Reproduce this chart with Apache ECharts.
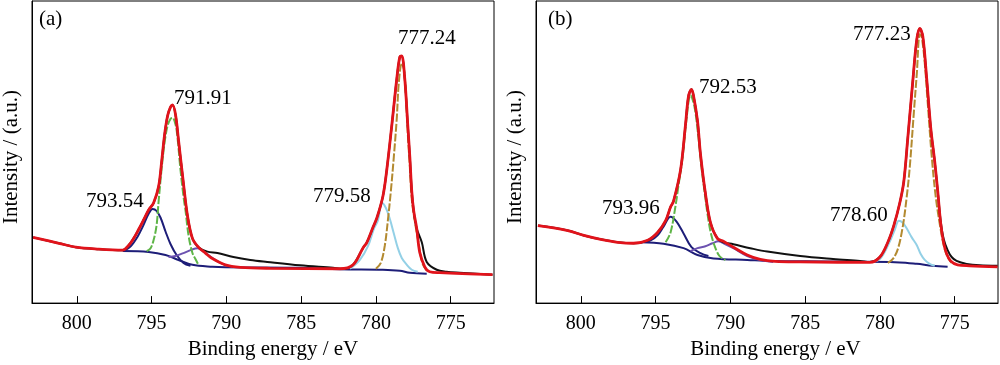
<!DOCTYPE html>
<html><head><meta charset="utf-8">
<script src="https://cdn.jsdelivr.net/npm/echarts@6/dist/echarts.min.js"></script>
<style>html,body{margin:0;padding:0;background:#fff}#c{width:1000px;height:365px}</style>
</head><body><div id="c"></div>
<script>
// ---- data (binding energy eV, intensity a.u.) ----
const tickValues = [775, 780, 785, 790, 795, 800];
const panelLabels = ['(a)', '(b)'];
const peakLabelsA = ['793.54', '791.91', '779.58', '777.24'];
const peakLabelsB = ['793.96', '792.53', '778.60', '777.23'];

// Panel (a)
const aRaw = [[802.93,67],[801.2,61],[800.07,57],[798.53,55],[796.93,54],[796.53,59],[796.2,66],[795.87,75],[795.53,85],[795.2,95],[794.87,102],[794.53,119],[794.33,144],[794.13,172],[793.93,191],[793.73,200],[793.6,202],[793.4,192],[793.2,166],[792.87,122],[792.6,89],[792.27,66],[791.87,57],[791.27,52.5],[790.6,51],[789.53,47],[788.4,44],[787.27,42],[785.07,38.5],[782.87,36],[782.2,35],[781.53,39],[780.87,56],[780.6,62],[780.2,77],[779.93,87],[779.53,109],[779.27,136],[778.93,182],[778.6,229],[778.4,251],[778.27,252],[778.07,229],[777.87,182],[777.73,149],[777.6,114],[777.47,94],[777.27,76],[776.93,62],[776.6,42],[775.93,34],[775.27,32],[774.4,31],[772.2,29]];
const aFit = [[802.93,67],[801.2,61],[800.07,57],[798.53,55],[796.93,54],[796.53,59],[796.2,66],[795.87,75],[795.53,85],[795.2,95],[794.87,102],[794.53,119],[794.33,144],[794.13,172],[793.93,191],[793.73,200],[793.6,202],[793.4,192],[793.2,166],[792.87,122],[792.6,89],[792.27,66],[791.87,57],[791.4,51],[791.0,46],[790.07,39],[789.07,36.5],[787.07,35.5],[782.4,35],[781.53,39],[780.87,56],[780.6,62],[780.2,77],[779.93,87],[779.53,109],[779.27,136],[778.93,182],[778.6,229],[778.4,251],[778.27,252],[778.07,229],[777.87,182],[777.73,149],[777.6,114],[777.47,94],[777.27,76],[777.07,52],[776.73,37],[776.4,32],[775.73,31],[772.2,29]];
const aBase = [[796.93,53],[795.2,52],[794.07,49],[793.2,44],[792.27,39],[790.93,37],[790.07,36.5],[785.07,36],[782.4,34.5],[779.53,34],[778.4,33],[777.73,31],[776.6,30]];
const aPeak1 = [[796.87,53],[796.4,58],[795.93,68],[795.53,80],[795.2,91],[794.93,96],[794.67,94],[794.4,87],[794.07,73],[793.73,60],[793.33,49],[792.87,41],[792.4,38]];
const aPeak2 = [[795.33,53],[795.07,56],[794.87,64],[794.67,79],[794.53,104],[794.33,137],[794.13,164],[793.93,181],[793.73,188],[793.6,189],[793.4,182],[793.27,169],[793.07,136],[792.87,109],[792.73,94],[792.53,69],[792.27,51],[792.07,45],[791.87,39]];
const aSat = [[793.87,47],[793.4,48],[792.87,51],[792.4,54],[791.93,56],[791.47,52],[790.93,46],[790.27,40],[789.6,37]];
const aPeak3 = [[781.73,35],[781.07,44],[780.53,58],[780.13,76],[779.87,84],[779.73,95],[779.6,102],[779.33,97],[779.07,86],[778.8,71],[778.53,56],[778.27,46],[777.93,39],[777.6,34],[777.2,32]];
const aPeak4 = [[780,35],[779.67,41],[779.4,59],[779.2,84],[779,114],[778.8,149],[778.6,189],[778.47,224],[778.27,244],[778.13,239],[778,214],[777.87,174],[777.73,139],[777.6,106],[777.4,84],[777.2,66],[776.87,40],[776.53,32]];

// Panel (b)
const bRaw = [[802.87,79],[800.87,74],[799.8,69],[798.67,65],[797.53,62],[796.47,61],[795.53,64],[794.87,72],[794.33,84],[794,98],[793.8,104],[793.33,136],[793,182],[792.8,211],[792.6,218],[792.47,212],[792.2,186],[792,152],[791.67,112],[791.33,82],[790.87,66],[790.47,62],[789.8,60],[788.67,56],[787.53,52.5],[785.33,48],[783.13,45],[781.33,43],[780.67,42],[780,47],[779.47,62],[779.07,79],[778.67,102],[778.4,124],[778.13,169],[777.8,226],[777.53,269],[777.33,280],[777.13,272],[776.87,229],[776.6,179],[776.33,144],[776.13,114],[775.93,83],[775.73,65],[775.47,54],[775.2,47],[774.87,43],[774.2,40],[773.33,38.5],[772.13,38]];
const bFit = [[802.87,79],[800.87,74],[799.8,69],[798.67,65],[797.53,62],[796.47,61],[795.53,64],[794.87,72],[794.33,84],[794,98],[793.8,104],[793.33,136],[793,182],[792.8,211],[792.6,218],[792.47,212],[792.2,186],[792,152],[791.67,112],[791.33,82],[790.87,66],[790.47,63],[789.8,57],[788.87,49],[788,44.5],[787,42.5],[785.33,42],[780.67,41.5],[780,47],[779.47,62],[779.07,79],[778.67,102],[778.4,124],[778.13,169],[777.8,226],[777.53,269],[777.33,280],[777.13,272],[776.87,229],[776.6,179],[776.33,144],[776.13,114],[775.93,81],[775.73,61],[775.53,50],[775.27,43],[774.8,39],[774,38],[772.13,37]];
const bBase = [[796,62],[794.47,60.5],[793.13,56],[792.2,49],[791.13,45.5],[788.87,44],[787.33,43],[783.13,42.5],[778.67,41.5],[777.53,40],[776.47,38],[775.47,37]];
const bPeak1 = [[796,62],[795.33,64],[794.87,69],[794.47,78],[794,88],[793.6,83],[793.13,71],[792.6,57],[792,51],[791.47,48]];
const bPeak2 = [[794.33,62],[794,72],[793.67,99],[793.47,120],[793.2,148],[792.93,188],[792.67,212],[792.4,200],[792.13,168],[791.93,138],[791.73,114],[791.53,91],[791.33,73],[791.07,59],[790.73,48],[790.33,44]];
const bSat = [[792.67,53],[792.2,56],[791.67,58],[791.2,61],[790.8,63],[790.33,60],[789.8,56],[788.87,48],[788,44],[787.13,42]];
const bPeak3 = [[780.67,42],[780,45],[779.33,63],[779,75],[778.73,84],[778.47,82],[778.2,76],[777.87,67],[777.53,59],[777.27,50],[777,44],[776.67,40],[776.33,38]];
const bPeak4 = [[779.47,41],[779.13,45],[778.8,55],[778.47,78],[778.2,109],[778,139],[777.73,194],[777.53,234],[777.33,274],[777.2,271],[777,245],[776.8,204],[776.53,149],[776.27,109],[776,81],[775.73,59],[775.47,47],[775.2,41]];

// ---- chart ----
const FONT = 'Liberation Serif';
const chart = echarts.init(document.getElementById('c'), null, {renderer: 'canvas'});

function xAx(gi, namePad) {
  return {
    type: 'value', gridIndex: gi, min: 772.1, max: 803, inverse: true,
    name: 'Binding energy / eV', nameLocation: 'middle', nameGap: 34,
    nameTextStyle: {fontFamily: FONT, fontSize: 21, color: '#000', padding: [0, 0, 0, namePad]},
    axisLine: {show: true, lineStyle: {color: '#000', width: 1}},
    axisTick: {show: true, inside: true, length: 7, customValues: tickValues, lineStyle: {color: '#000', width: 1}},
    axisLabel: {show: true, customValues: tickValues, margin: 11, fontFamily: FONT, fontSize: 20, color: '#000'},
    splitLine: {show: false}
  };
}
function yAx(gi) {
  return {
    type: 'value', gridIndex: gi, min: 0, max: 308,
    name: 'Intensity / (a.u.)', nameLocation: 'middle', nameGap: 10,
    nameTextStyle: {fontFamily: FONT, fontSize: 21, color: '#000', padding: [0, 10, 0, 0]},
    axisLine: {show: true, lineStyle: {color: '#000', width: 1}},
    axisTick: {show: false}, axisLabel: {show: false}, splitLine: {show: false}
  };
}
function ln(gi, data, color, width, type) {
  return {
    type: 'line', xAxisIndex: gi, yAxisIndex: gi, data: data, smooth: 0.35,
    showSymbol: false, symbol: 'none', animation: false, silent: true,
    lineStyle: {color: color, width: width, type: type || 'solid'}
  };
}
const NAVY = '#1d1d78', GREEN = '#5fb548', PURPLE = '#6c52b0', LBLUE = '#93d0e6', BROWN = '#b38a30', RED = '#e1131b', BLACK = '#111';

function panelSeries(gi, base, p1, sat, p2, p3, p4, raw, fit) {
  return [
    ln(gi, base, NAVY, 2),
    ln(gi, p1, NAVY, 2),
    ln(gi, sat, PURPLE, 2),
    ln(gi, p2, GREEN, 2, [8, 2]),
    ln(gi, p3, LBLUE, 2),
    ln(gi, p4, BROWN, 2, [8, 2]),
    ln(gi, raw, BLACK, 2),
    ln(gi, fit, RED, 2.8)
  ];
}

function txt(s, left, top) {
  return {type: 'text', left: left, top: top, silent: true,
    style: {text: s, fontFamily: FONT, fontSize: 21, fill: '#000'}};
}

chart.setOption({
  animation: false,
  backgroundColor: '#fff',
  grid: [
    {left: 31, right: 506, top: 1, bottom: 56, show: true, borderColor: '#000', borderWidth: 1, backgroundColor: 'transparent'},
    {left: 536, right: 2, top: 1, bottom: 56, show: true, borderColor: '#000', borderWidth: 1, backgroundColor: 'transparent'}
  ],
  xAxis: [xAx(0, 20), xAx(1, 17)],
  yAxis: [yAx(0), yAx(1)],
  series: [].concat(
    panelSeries(0, aBase, aPeak1, aSat, aPeak2, aPeak3, aPeak4, aRaw, aFit),
    panelSeries(1, bBase, bPeak1, bSat, bPeak2, bPeak3, bPeak4, bRaw, bFit)
  ),
  graphic: [
    txt(panelLabels[0], 39, 9),
    txt(peakLabelsA[0], 86, 191),
    txt(peakLabelsA[1], 174, 88),
    txt(peakLabelsA[2], 313, 186),
    txt(peakLabelsA[3], 398, 28),
    txt(panelLabels[1], 548, 9),
    txt(peakLabelsB[0], 602, 198),
    txt(peakLabelsB[1], 699, 77),
    txt(peakLabelsB[2], 830, 205),
    txt(peakLabelsB[3], 853, 24)
  ]
});
</script></body></html>
